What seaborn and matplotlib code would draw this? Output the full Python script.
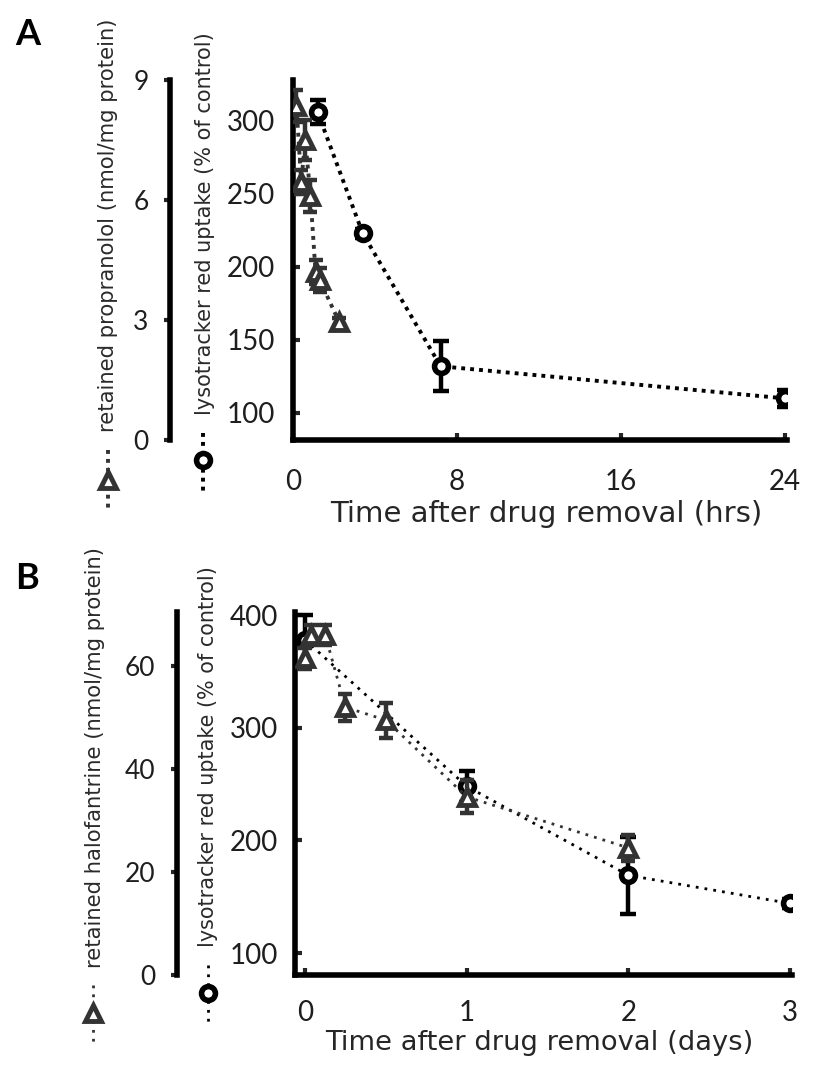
import matplotlib
matplotlib.use("Agg")
import matplotlib.pyplot as plt
import seaborn as sns

# ---------------- data ----------------
# Panel A (hours)
a_lyso_t = [1.2, 3.4, 7.2, 24.0]
a_lyso_v = [306, 223, 132, 110]
a_lyso_e = [8, 3, 17, 6]
a_prop_t = [0.17, 0.4, 0.6, 0.85, 1.1, 1.3, 2.25]
a_prop_v = [8.35, 6.45, 7.5, 6.1, 4.2, 4.0, 2.95]
a_prop_e = [0.4, 0.3, 0.5, 0.4, 0.3, 0.3, 0.1]
a_xticks = [0, 8, 16, 24]
a_lyso_ticks = [100, 150, 200, 250, 300]
a_prop_ticks = [0, 3, 6, 9]

# Panel B (days)
b_lyso_t = [0.0, 1.0, 2.0, 3.0]
b_lyso_v = [378, 248, 169, 144]
b_lyso_e = [22, 14, 34, 4]
b_halo_t = [0.0, 0.04, 0.125, 0.25, 0.5, 1.0, 2.0]
b_halo_v = [61.5, 66, 66, 52, 49.5, 34.6, 24.7]
b_halo_e = [2, 2, 2, 2.6, 3.4, 3.2, 2.5]
b_xticks = [0, 1, 2, 3]
b_lyso_ticks = [100, 200, 300, 400]
b_halo_ticks = [0, 20, 40, 60]

lyso_label = "lysotracker red uptake (% of control)"
prop_label = "retained propranolol (nmol/mg protein)"
halo_label = "retained halofantrine (nmol/mg protein)"
xlabel_a = "Time after drug removal (hrs)"
xlabel_b = "Time after drug removal (days)"

# ---------------- style ----------------
sns.set_theme(style="white")
plt.rcParams["font.family"] = ["Lato", "DejaVu Sans"]
LABEL_FONT = ["DejaVu Sans"]

W, H = 828, 1072
fig = plt.figure(figsize=(W / 100, H / 100), dpi=100)
fig.patch.set_facecolor("white")
renderer = fig.canvas.get_renderer()


def rect(l, t, r, b):
    return [l / W, 1 - b / H, (r - l) / W, (b - t) / H]


def fit(txt, target, dim):
    """Scale font size so the rendered text spans `target` pixels."""
    for _ in range(2):
        bb = txt.get_window_extent(renderer)
        cur = bb.width if dim == "w" else bb.height
        txt.set_fontsize(txt.get_fontsize() * target / cur)


TXT = "#1e1e1e"
GRAY = "#333333"
SPW = 4.0

circ_kw = dict(marker="o", markersize=10, markerfacecolor="white",
               markeredgecolor="black", markeredgewidth=4, color="black")
tri_kw = dict(marker="^", markersize=11, markerfacecolor="white",
              markeredgecolor=GRAY, markeredgewidth=3.5, color=GRAY)


def style_main(ax, pad_y, pad_x):
    for s in ["top", "right"]:
        ax.spines[s].set_visible(False)
    for s in ["left", "bottom"]:
        ax.spines[s].set_linewidth(SPW)
        ax.spines[s].set_color("black")
    ax.tick_params(axis="y", direction="in", length=5, width=3, pad=pad_y,
                   labelsize=20, labelcolor=TXT, left=True)
    ax.tick_params(axis="x", direction="in", length=5, width=3, pad=pad_x,
                   labelsize=20, labelcolor=TXT, bottom=True)
    ax.grid(False)
    ax.set_facecolor("none")


def style_twin(ax2, outward, pad):
    for s in ["top", "right", "bottom"]:
        ax2.spines[s].set_visible(False)
    ax2.spines["left"].set_visible(True)
    ax2.spines["left"].set_position(("outward", outward))
    ax2.spines["left"].set_linewidth(SPW)
    ax2.spines["left"].set_color("black")
    ax2.yaxis.set_ticks_position("left")
    ax2.yaxis.set_label_position("left")
    ax2.tick_params(axis="y", direction="out", length=4, width=3, pad=pad,
                    labelsize=19, labelcolor=TXT, left=True, right=False)
    ax2.grid(False)


def draw(ax, t, v, e, kw, ls, lw, cap):
    ax.errorbar(t, v, yerr=e, fmt="none", ecolor=kw["markeredgecolor"],
                elinewidth=3.2, capsize=cap, capthick=3.2, zorder=1.5)
    sns.lineplot(x=t, y=v, ax=ax, sort=False, errorbar=None,
                 linestyle=ls, linewidth=lw, zorder=3, **kw)


def xlab(ax, s, xc, ytop_px, ax_bottom_px, ax_h_px, target_w, ax_left_px, ax_w_px):
    ax.set_xlabel(s, fontsize=20, color="#262626", family=LABEL_FONT)
    ax.xaxis.set_label_coords((xc - ax_left_px) / ax_w_px,
                              (ax_bottom_px - ytop_px) / ax_h_px)
    ax.xaxis.label.set_va("top")
    fit(ax.xaxis.label, target_w, "w")


# ---------------- Panel A ----------------
axA = fig.add_axes(rect(293, 80, 787, 440))
style_main(axA, pad_y=13, pad_x=21)
axA.set_xlim(0, 24.1)
axA.set_ylim(81.5, 328)
axA.set_xticks(a_xticks)
axA.set_yticks(a_lyso_ticks)
axA2 = axA.twinx()
axA2.set_ylim(0.05, 9.0)
axA2.set_yticks(a_prop_ticks)
style_twin(axA2, outward=123 * 0.72, pad=11.5)

dotsA = (0, (1, 1.3))
draw(axA, a_lyso_t, a_lyso_v, a_lyso_e, circ_kw, dotsA, 2.8, 6)
draw(axA2, a_prop_t, a_prop_v, a_prop_e, tri_kw, dotsA, 2.8, 5)
axA.set_ylabel("")
axA2.set_ylabel("")
xlab(axA, xlabel_a, 546, 500, 440, 360, 432, 293, 494)

# ---------------- Panel B ----------------
axB = fig.add_axes(rect(295, 612, 792, 975))
style_main(axB, pad_y=12, pad_x=18)
axB.set_xlim(-0.062, 3.012)
axB.set_ylim(80.5, 402.7)
axB.set_xticks(b_xticks)
axB.set_yticks(b_lyso_ticks)
axB2 = axB.twinx()
axB2.set_ylim(0, 70.5)
axB2.set_yticks(b_halo_ticks)
style_twin(axB2, outward=118 * 0.72, pad=11.5)

dotsB = (0, (1, 2.2))
draw(axB, b_lyso_t, b_lyso_v, b_lyso_e, circ_kw, dotsB, 2.0, 6)
draw(axB2, b_halo_t, b_halo_v, b_halo_e, tri_kw, dotsB, 2.0, 5)
axB.set_ylabel("")
axB2.set_ylabel("")
xlab(axB, xlabel_b, 539, 1030, 975, 363, 428, 295, 497)

# ---------------- rotated axis titles ----------------
def vlabel(x, ybot, ytop, s):
    t = fig.text(x / W, 1 - ybot / H, s, rotation=90, ha="center", va="bottom",
                 fontsize=15, color="#2a2a2a", family=LABEL_FONT)
    fit(t, ybot - ytop, "h")

vlabel(108, 432, 18, prop_label)
vlabel(205, 415, 33, lyso_label)
vlabel(95, 968, 547, halo_label)
vlabel(208, 947, 567, lyso_label)

# panel letters
fig.text(15 / W, 1 - 18 / H, "A", fontsize=26, fontweight="bold", va="top", ha="left", color="black")
fig.text(15 / W, 1 - 562 / H, "B", fontsize=26, fontweight="bold", va="top", ha="left", color="black")

# ---------------- legend keys under the axis titles ----------------
key = fig.add_axes([0, 0, 1, 1])
key.set_xlim(0, W)
key.set_ylim(H, 0)
key.axis("off")
key.patch.set_alpha(0)


def vkey(x, y0, ym, y1, kw, ls, lw):
    key.plot([x, x, x], [y0, ym, y1], linestyle=ls, linewidth=lw,
             markevery=[1], **kw)

vkey(108, 450, 480, 510, tri_kw, dotsA, 2.8)
vkey(203, 433, 460, 492, circ_kw, dotsA, 2.8)
vkey(93, 985, 1013, 1043, tri_kw, dotsB, 2.0)
vkey(208, 965, 993, 1023, circ_kw, dotsB, 2.0)

fig.savefig("out.png", dpi=100, facecolor="white")
